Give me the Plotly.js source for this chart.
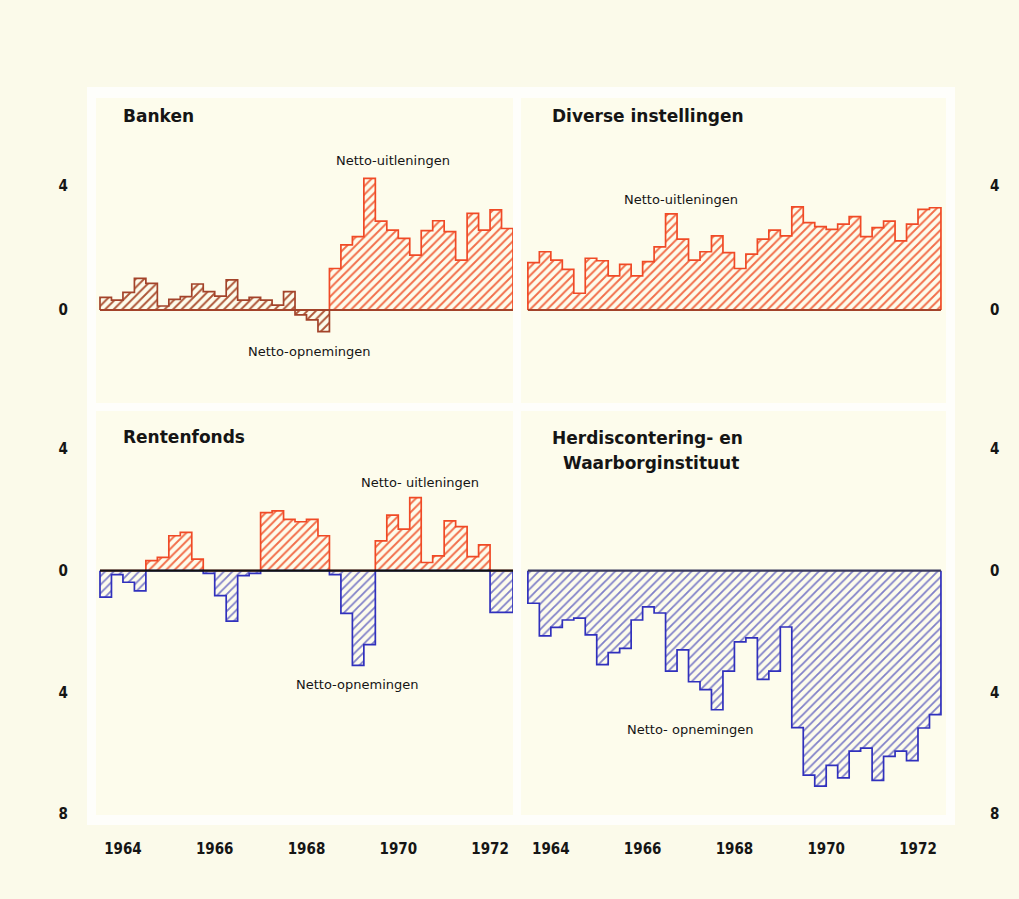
<!DOCTYPE html>
<html><head><meta charset="utf-8">
<script src="https://cdn.plot.ly/plotly-3.0.1.min.js"></script>
<style>html,body{margin:0;padding:0;background:#fbfaea;}</style>
</head><body><div id="chart" style="width:1019px;height:899px;"></div>
<script>
// ---- data (quarterly, 1964 Q1 - 1972 Q4) ----
const startYear = 1964;
const periodsPerYear = 4;
const panelTitles = ['Banken', 'Diverse instellingen', 'Rentenfonds', 'Herdiscontering- en', 'Waarborginstituut'];
const banken = [0.41,0.32,0.57,1.02,0.86,0.13,0.34,0.43,0.84,0.59,0.45,0.97,0.32,0.41,0.32,0.16,0.59,-0.16,-0.32,-0.70,
                1.34,2.10,2.37,4.25,2.87,2.58,2.31,1.77,2.56,2.88,2.53,1.61,3.12,2.58,3.23,2.63];
const bankenEarlyCount = 20; // quarters shown in brown (1964-1968)
const diverse = [1.53,1.88,1.61,1.31,0.54,1.67,1.59,1.10,1.47,1.10,1.56,2.04,3.10,2.29,1.61,1.88,2.39,1.85,1.34,1.80,
                 2.29,2.58,2.39,3.33,2.82,2.69,2.60,2.77,3.01,2.37,2.66,2.87,2.23,2.77,3.25,3.30];
const rentenfonds = [-0.87,-0.13,-0.38,-0.66,0.33,0.44,1.15,1.26,0.38,-0.09,-0.82,-1.66,-0.16,-0.09,1.91,1.97,1.69,1.61,1.69,1.15,
                     -0.13,-1.40,-3.11,-2.43,0.98,1.83,1.37,2.40,0.27,0.49,1.64,1.45,0.46,0.85,-1.37,-1.37];
const herdiscontering = [-1.07,-2.14,-1.86,-1.62,-1.56,-2.11,-3.09,-2.69,-2.55,-1.62,-1.19,-1.39,-3.30,-2.60,-3.65,-3.91,-4.57,-3.30,-2.34,-2.21,
                         -3.57,-3.30,-1.85,-5.16,-6.72,-7.08,-6.40,-6.81,-5.93,-5.83,-6.89,-6.10,-5.93,-6.24,-5.17,-4.73];
const tickYears = [1964, 1966, 1968, 1970, 1972];
const tickYearLabels = ['1964', '1966', '1968', '1970', '1972'];
const topTickVals = [0, 4];
const topTickText = ['0', '4'];
const bottomTickVals = [4, 0, -4, -8];
const bottomTickText = ['4', '0', '4', '8'];
const labelUit = 'Netto-uitleningen';
const labelUit2 = 'Netto- uitleningen';
const labelOpn = 'Netto-opnemingen';
const labelOpn2 = 'Netto- opnemingen';

// ---- helpers ----
const W = 1019, H = 899;
const px = v => v / W, py = v => 1 - v / H;
const xAt = i => startYear + i / periodsPerYear;

function stepTrace(vals, i0, i1, xa, ya, line, hatch, sol) {
  const x = [xAt(i0)], y = [0];
  for (let i = i0; i < i1; i++) { x.push(xAt(i)); y.push(vals[i]); }
  x.push(xAt(i1)); y.push(vals[i1 - 1]);
  x.push(xAt(i1)); y.push(0);
  return {
    type: 'scatter', mode: 'lines', x, y, xaxis: xa, yaxis: ya,
    line: {shape: 'hv', color: line, width: 1.7},
    fill: 'tozeroy', fillcolor: 'rgba(0,0,0,0)',
    fillpattern: {shape: '/', fgcolor: hatch, bgcolor: 'rgba(0,0,0,0)', size: 6, solidity: sol},
    hoverinfo: 'skip'
  };
}

const BROWN = '#a3432a', BROWN_H = '#ad5537';
const ORANGE = '#f04a26', ORANGE_H = '#f26e4a';
const BLUE = '#3030bd', BLUE_H = '#8080c8';

const n = banken.length;
const posR = rentenfonds.map(v => Math.max(v, 0));
const negR = rentenfonds.map(v => Math.min(v, 0));

const traces = [
  stepTrace(banken, 0, bankenEarlyCount, 'x', 'y', BROWN, BROWN_H, 0.32),
  stepTrace(banken, bankenEarlyCount, n, 'x', 'y', ORANGE, ORANGE_H, 0.32),
  stepTrace(diverse, 0, n, 'x2', 'y2', ORANGE, ORANGE_H, 0.32),
  stepTrace(posR, 0, n, 'x3', 'y3', ORANGE, ORANGE_H, 0.32),
  stepTrace(negR, 0, n, 'x3', 'y3', BLUE, BLUE_H, 0.3),
  stepTrace(herdiscontering, 0, n, 'x4', 'y4', BLUE, BLUE_H, 0.3)
];

const tickFont = {family: 'Liberation Sans Narrow, DejaVu Sans Condensed, sans-serif', size: 15, color: '#151515', weight: 'bold'};
const leftDom = [px(96), px(513)], rightDom = [px(521), px(946)];
const topDom = [py(403), py(98)], botDom = [py(815), py(411)];
const leftRange = [1963.913, 1973.0], rightRange = [1963.85, 1973.11];
const topRange = [-3.0, 6.84], botRange = [-8.03, 5.25];
const tickX = tickYears.map(y => y + 0.5);

function xax(dom, range, anchor, labels) {
  return {domain: dom, range, anchor, showgrid: false, zeroline: false, showline: false,
    tickmode: 'array', tickvals: tickX, ticktext: tickYearLabels, showticklabels: labels,
    ticks: labels ? 'outside' : '', ticklen: 20, tickcolor: 'rgba(0,0,0,0)', tickfont: tickFont, fixedrange: true};
}
function yax(dom, range, anchor, side, vals, text) {
  return {domain: dom, range, anchor, side, showgrid: false, zeroline: false, showline: false,
    tickmode: 'array', tickvals: vals, ticktext: text, ticks: 'outside',
    ticklen: side === 'left' ? 24 : 40, tickcolor: 'rgba(0,0,0,0)', tickfont: tickFont, fixedrange: true};
}

const panelBg = '#fdfcec';
const shapes = [
  {type: 'rect', xref: 'paper', yref: 'paper', x0: px(87), x1: px(955), y0: py(825), y1: py(87),
   fillcolor: '#fefefb', line: {width: 0}, layer: 'below'}
];
['', '2', '3', '4'].forEach(s => shapes.push({type: 'rect', xref: 'x' + s + ' domain', yref: 'y' + s + ' domain',
  x0: 0, x1: 1, y0: 0, y1: 1, fillcolor: panelBg, line: {width: 0}, layer: 'below'}));
const zeroColors = [['', '#a3432a'], ['2', '#a3432a'], ['3', '#111111'], ['4', '#3a3a5c']];
zeroColors.forEach(([s, c]) => shapes.push({type: 'line', xref: 'x' + s, yref: 'y' + s,
  x0: xAt(0), x1: xAt(n), y0: 0, y1: 0, line: {color: c, width: 2.2}, layer: 'above'}));

const titleFont = {family: 'DejaVu Sans, sans-serif', size: 17, color: '#151515', weight: 'bold'};
const labFont = {family: 'DejaVu Sans, sans-serif', size: 13, color: '#151515'};
function ann(text, x, y, font, xanchor) {
  return {text, xref: 'paper', yref: 'paper', x: px(x), y: py(y), xanchor: xanchor || 'center', yanchor: 'middle',
    showarrow: false, font};
}
const annotations = [
  ann(panelTitles[0], 121, 116, titleFont, 'left'),
  ann(panelTitles[1], 550, 116, titleFont, 'left'),
  ann(panelTitles[2], 121, 437, titleFont, 'left'),
  ann(panelTitles[3], 550, 438, titleFont, 'left'),
  ann(panelTitles[4], 561, 463, titleFont, 'left'),
  ann(labelUit, 393, 160, labFont),
  ann(labelOpn, 309, 351, labFont),
  ann(labelUit, 681, 199, labFont),
  ann(labelUit2, 420, 482, labFont),
  ann(labelOpn, 357, 684, labFont),
  ann(labelOpn2, 690, 729, labFont)
];

const layout = {
  width: W, height: H, margin: {l: 0, r: 0, t: 0, b: 0},
  paper_bgcolor: '#fbfaea', plot_bgcolor: 'rgba(0,0,0,0)', showlegend: false,
  xaxis: xax(leftDom, leftRange, 'y', false),
  yaxis: yax(topDom, topRange, 'x', 'left', topTickVals, topTickText),
  xaxis2: xax(rightDom, rightRange, 'y2', false),
  yaxis2: yax(topDom, topRange, 'x2', 'right', topTickVals, topTickText),
  xaxis3: xax(leftDom, leftRange, 'y3', true),
  yaxis3: yax(botDom, botRange, 'x3', 'left', bottomTickVals, bottomTickText),
  xaxis4: xax(rightDom, rightRange, 'y4', true),
  yaxis4: yax(botDom, botRange, 'x4', 'right', bottomTickVals, bottomTickText),
  shapes, annotations
};
Plotly.newPlot('chart', traces, layout, {displayModeBar: false, staticPlot: true});
</script></body></html>
